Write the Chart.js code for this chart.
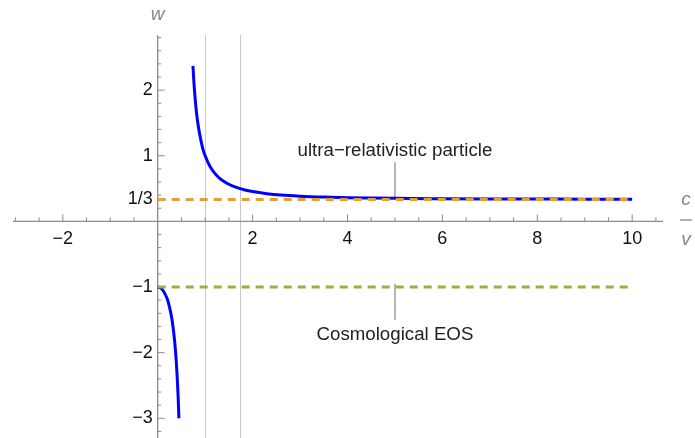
<!DOCTYPE html>
<html>
<head>
<meta charset="utf-8">
<script src="https://cdn.jsdelivr.net/npm/chart.js@4"></script>
<style>
  html, body { margin: 0; padding: 0; background: #fff; }
  canvas { display: block; }
</style>
</head>
<body>
<canvas id="myChart" width="695" height="438"></canvas>
<script>
// w against c/v
const upperX = [0.743, 0.76, 0.78, 0.8, 0.83, 0.86, 0.9, 0.95, 1.0, 1.1, 1.2, 1.3, 1.45, 1.6, 1.8, 2.0, 2.3, 2.6, 3.0, 3.5, 4, 5, 6, 7, 8, 9, 10];
const upperW = [2.37, 2.15, 1.95, 1.78, 1.58, 1.43, 1.27, 1.11, 1.0, 0.84, 0.735, 0.66, 0.585, 0.533, 0.486, 0.455, 0.423, 0.402, 0.385, 0.371, 0.362, 0.351, 0.346, 0.342, 0.34, 0.339, 0.338];
const lowerX = [0, 0.05, 0.1, 0.15, 0.2, 0.25, 0.3, 0.33, 0.36, 0.39, 0.41, 0.43, 0.447];
const lowerW = [-1, -1.01, -1.04, -1.1, -1.18, -1.31, -1.49, -1.65, -1.85, -2.12, -2.36, -2.66, -3.0];

// reference lines
const ultraX = [0, 10];
const ultraW = [1 / 3, 1 / 3];
const cosmoX = [0, 10];
const cosmoW = [-1, -1];
const markerLines = [1, 1.732];

// callouts
const noteText = ["ultra\u2212relativistic particle", "Cosmological EOS"];
const noteX = [5, 5];
const noteW = [1.0, -1.8];
const ultraCalloutW = [0.9, 0.345];
const cosmoCalloutW = [-0.95, -1.5];

// ticks
const xTicks = [-2, 2, 4, 6, 8, 10];
const xTickLabels = ["\u22122", "2", "4", "6", "8", "10"];
const xMinorTicks = [-3, -2.5, -1.5, -1, -0.5, 0.5, 1, 1.5, 2.5, 3, 3.5, 4.5, 5, 5.5, 6.5, 7, 7.5, 8.5, 9, 9.5, 10.5];
const yTicks = [-3, -2, -1, 1 / 3, 1, 2];
const yTickLabels = ["\u22123", "\u22122", "\u22121", "1/3", "1", "2"];
const yMinorTicks = [-3.2, -2.8, -2.6, -2.4, -2.2, -1.8, -1.6, -1.4, -1.2, -0.8, -0.6, -0.4, -0.2, 0.2, 0.4, 0.6, 0.8, 1.2, 1.4, 1.6, 1.8, 2.2, 2.4, 2.6, 2.8];

const toPoints = (xs, ys) => xs.map((x, i) => ({ x: x, y: ys[i] }));

const axisColor = "#8c8c8c";
const fontFamily = "'Liberation Sans', Arial, sans-serif";

const axesPlugin = {
  id: "axes",
  beforeDatasetsDraw(chart) {
    const { ctx, chartArea, scales } = chart;
    const x = scales.x;
    const y = scales.y;
    const x0 = x.getPixelForValue(0);
    const y0 = y.getPixelForValue(0);
    ctx.save();
    // vertical grey lines
    ctx.strokeStyle = "#c8c8c8";
    ctx.lineWidth = 1;
    markerLines.forEach((v) => {
      const px = Math.round(x.getPixelForValue(v)) + 0.5;
      ctx.beginPath();
      ctx.moveTo(px, chartArea.top);
      ctx.lineTo(px, chartArea.bottom);
      ctx.stroke();
    });
    // axes
    ctx.strokeStyle = axisColor;
    ctx.lineWidth = 1.3;
    ctx.beginPath();
    ctx.moveTo(chartArea.left, y0);
    ctx.lineTo(chartArea.right, y0);
    ctx.moveTo(x0, chartArea.top);
    ctx.lineTo(x0, chartArea.bottom);
    ctx.stroke();
    // tick marks
    ctx.lineWidth = 1;
    ctx.beginPath();
    xTicks.forEach((v) => {
      const px = x.getPixelForValue(v);
      ctx.moveTo(px, y0);
      ctx.lineTo(px, y0 - 7);
    });
    xMinorTicks.forEach((v) => {
      const px = x.getPixelForValue(v);
      ctx.moveTo(px, y0);
      ctx.lineTo(px, y0 - 4);
    });
    yTicks.forEach((v) => {
      const py = y.getPixelForValue(v);
      ctx.moveTo(x0, py);
      ctx.lineTo(x0 + (v === 1 / 3 ? 4 : 7), py);
    });
    yMinorTicks.forEach((v) => {
      const py = y.getPixelForValue(v);
      ctx.moveTo(x0, py);
      ctx.lineTo(x0 + 3.5, py);
    });
    ctx.stroke();
    ctx.restore();
  },
  afterDraw(chart) {
    const { ctx, scales } = chart;
    const x = scales.x;
    const y = scales.y;
    ctx.save();
    ctx.textAlign = "center";
    ctx.textBaseline = "alphabetic";
    ctx.fillStyle = "#222";
    ctx.font = "18.7px " + fontFamily;
    noteText.forEach((t, i) => {
      ctx.fillText(t, x.getPixelForValue(noteX[i]), y.getPixelForValue(noteW[i]));
    });
    // axis titles
    ctx.fillStyle = "#858585";
    ctx.font = "italic 19px " + fontFamily;
    ctx.fillText("w", x.getPixelForValue(0), 20);
    ctx.fillText("c", 686, 205);
    ctx.fillText("v", 686, 245);
    ctx.strokeStyle = "#858585";
    ctx.lineWidth = 1.3;
    ctx.beginPath();
    ctx.moveTo(680, 220);
    ctx.lineTo(692, 220);
    ctx.stroke();
    ctx.restore();
  },
};

// keep the crossing axes from eating into the plot area
const noPadding = (scale) => {
  scale.paddingTop = 0;
  scale.paddingBottom = 0;
  scale.paddingLeft = 0;
  scale.paddingRight = 0;
};

const ctx = document.getElementById("myChart").getContext("2d");

const myChart = new Chart(ctx, {
  type: "scatter",
  data: {
    datasets: [
      {
        data: toPoints(ultraX, ultraW),
        showLine: true,
        borderColor: "#e3a036",
        borderWidth: 3,
        borderDash: [8, 6],
        pointRadius: 0,
      },
      {
        data: toPoints(cosmoX, cosmoW),
        showLine: true,
        borderColor: "#92b43a",
        borderWidth: 3,
        borderDash: [8, 6],
        pointRadius: 0,
      },
      {
        data: toPoints(upperX, upperW),
        showLine: true,
        borderColor: "#0000ff",
        borderWidth: 3,
        cubicInterpolationMode: "monotone",
        pointRadius: 0,
      },
      {
        data: toPoints(lowerX, lowerW),
        showLine: true,
        borderColor: "#0000ff",
        borderWidth: 3,
        cubicInterpolationMode: "monotone",
        pointRadius: 0,
      },
      {
        data: toPoints(noteX, ultraCalloutW),
        showLine: true,
        borderColor: "#b4b4b4",
        borderWidth: 2,
        pointRadius: 0,
      },
      {
        data: toPoints(noteX, cosmoCalloutW),
        showLine: true,
        borderColor: "#b4b4b4",
        borderWidth: 2,
        pointRadius: 0,
      },
    ],
  },
  options: {
    responsive: false,
    animation: false,
    layout: { padding: { left: 13, right: 32, top: 35, bottom: 0 } },
    plugins: {
      legend: { display: false },
      tooltip: { enabled: false },
    },
    scales: {
      x: {
        type: "linear",
        min: -3.05,
        max: 10.65,
        position: { y: 0 },
        grid: { display: false, drawTicks: false },
        border: { display: false },
        afterFit: (scale) => {
          scale.height = 0;
          noPadding(scale);
        },
        afterBuildTicks: (scale) => {
          scale.ticks = xTicks.map((v) => ({ value: v }));
        },
        ticks: {
          autoSkip: false,
          maxRotation: 0,
          padding: 7,
          color: "#111",
          font: { family: fontFamily, size: 18 },
          callback: (value) => xTickLabels[xTicks.indexOf(value)],
        },
      },
      y: {
        type: "linear",
        min: -3.3,
        max: 2.84,
        position: { x: 0 },
        grid: { display: false, drawTicks: false },
        border: { display: false },
        afterFit: (scale) => {
          scale.width = 0;
          noPadding(scale);
        },
        afterBuildTicks: (scale) => {
          scale.ticks = yTicks.map((v) => ({ value: v }));
        },
        ticks: {
          autoSkip: false,
          padding: 6,
          color: "#111",
          font: { family: fontFamily, size: 18 },
          // trailing space keeps the label off the axis line
          callback: (value) => yTickLabels[yTicks.indexOf(value)] + " ",
        },
      },
    },
  },
  plugins: [axesPlugin],
});
</script>
</body>
</html>
